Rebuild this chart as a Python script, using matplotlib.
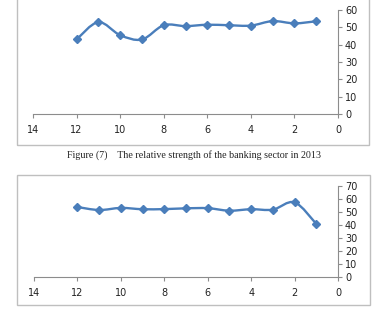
import matplotlib
matplotlib.use("Agg")
import matplotlib.pyplot as plt
from matplotlib.path import Path
from matplotlib.patches import PathPatch, Rectangle
import numpy as np

x_vals = [12, 11, 10, 9, 8, 7, 6, 5, 4, 3, 2, 1]
top_vals = [43, 53, 45.5, 43, 51.2, 50.7, 51.5, 51.2, 51, 53.6, 52.3, 53.5]
bottom_vals = [54, 51.7, 53.3, 52.3, 52.4, 53, 53.1, 51.2, 52.3, 52, 57.6, 41]
x_ticks = [14, 12, 10, 8, 6, 4, 2, 0]
top_yticks = [0, 10, 20, 30, 40, 50, 60]
bottom_yticks = [0, 10, 20, 30, 40, 50, 60, 70]
caption = "Figure (7)    The relative strength of the banking sector in 2013"

LINE = "#4A7EBB"
AXC = "#8C8C8C"

fig = plt.figure(figsize=(3.77, 3.09), dpi=100)


def smooth_path(xs, ys):
    pts = np.column_stack([xs, ys]).astype(float)
    n = len(pts)
    verts = [pts[0]]
    codes = [Path.MOVETO]
    for i in range(n - 1):
        p0 = pts[i - 1] if i > 0 else pts[i]
        p1 = pts[i]
        p2 = pts[i + 1]
        p3 = pts[i + 2] if i + 2 < n else pts[i + 1]
        c1 = p1 + (p2 - p0) / 6.0
        c2 = p2 - (p3 - p1) / 6.0
        verts += [c1, c2, p2]
        codes += [Path.CURVE4] * 3
    return Path(verts, codes)


def draw(ax, ys, ylim, yticks):
    ax.add_patch(PathPatch(smooth_path(x_vals, ys), facecolor="none",
                           edgecolor=LINE, lw=1.7, zorder=3))
    ax.plot(x_vals, ys, linestyle="none", marker="D", markersize=4.2,
            color=LINE, zorder=4)
    ax.set_xlim(14, 0)
    ax.set_ylim(*ylim)
    ax.set_xticks(x_ticks)
    ax.set_yticks(yticks)
    for s in ["top", "left"]:
        ax.spines[s].set_visible(False)
    for s in ["bottom", "right"]:
        ax.spines[s].set_color(AXC)
        ax.spines[s].set_linewidth(0.8)
    ax.yaxis.tick_right()
    ax.tick_params(axis="both", direction="out", length=3, width=0.8,
                   color=AXC, labelsize=7, labelcolor="#222222", pad=2)
    ax.tick_params(axis="x", pad=5)
    ax.patch.set_alpha(0)


ax1 = fig.add_axes([33 / 377, 1 - 114 / 309, 305 / 377, 104 / 309])
draw(ax1, top_vals, (0, 60), top_yticks)

ax2 = fig.add_axes([34 / 377, 1 - 277 / 309, 304 / 377, 90.7 / 309])
draw(ax2, bottom_vals, (0, 70), bottom_yticks)

# chart borders
fig.patches.append(Rectangle((17 / 377, 1 - 145 / 309), 352 / 377, 160 / 309,
                             transform=fig.transFigure, fill=False,
                             edgecolor="#BFBFBF", lw=1.0))
fig.patches.append(Rectangle((17 / 377, 1 - 305 / 309), 353 / 377, 130 / 309,
                             transform=fig.transFigure, fill=False,
                             edgecolor="#BFBFBF", lw=1.0))

fig.text(194 / 377, 1 - 155 / 309, caption, ha="center", va="center",
         fontsize=7.2, family="Liberation Serif", color="#222222")

fig.savefig("out.png", dpi=100)
